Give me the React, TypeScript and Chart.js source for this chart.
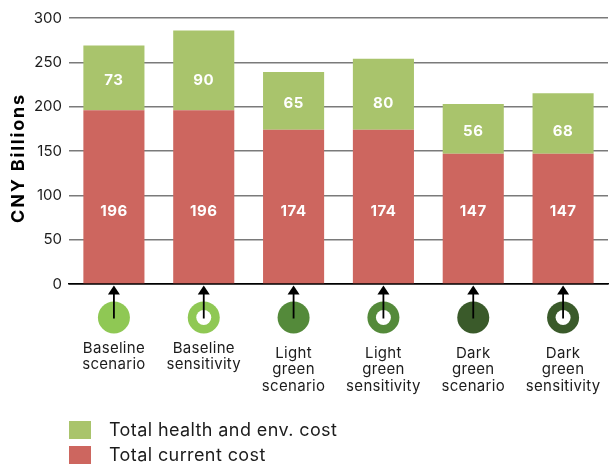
import React, { useEffect, useRef } from 'react';
import { Chart, registerables } from 'chart.js';

Chart.register(...registerables);

const categories: string[][] = [
  ['Baseline', 'scenario'],
  ['Baseline', 'sensitivity'],
  ['Light', 'green', 'scenario'],
  ['Light', 'green', 'sensitivity'],
  ['Dark', 'green', 'scenario'],
  ['Dark', 'green', 'sensitivity'],
];
const currentCost = [196, 196, 174, 174, 147, 147];
const healthEnvCost = [73, 90, 65, 80, 56, 68];
const seriesLabels = ['Total current cost', 'Total health and env. cost'];
const yTickValues = [0, 50, 100, 150, 200, 250, 300];
const iconColors = ['#8fc854', '#8fc854', '#548a3a', '#548a3a', '#3a5a2a', '#3a5a2a'];
const iconHollow = [false, true, false, true, false, true];
const yAxisTitle = 'CNY Billions';

const RED = '#cd665f';
const GREEN = '#a9c46c';
const TEXT = '#1c1c1c';
const FONT = 'Inter, "Noto Sans", sans-serif';

const overlayPlugin = {
  id: 'overlay',
  afterDatasetsDraw(chart: any) {
    const ctx: any = chart.ctx;
    const y = chart.scales.y;
    ctx.save();
    ctx.fillStyle = '#ffffff';
    ctx.font = `bold 15px ${FONT}`;
    ctx.letterSpacing = '0.5px';
    ctx.textAlign = 'center';
    ctx.textBaseline = 'middle';
    const metaRed = chart.getDatasetMeta(0);
    const metaGreen = chart.getDatasetMeta(1);
    const redLabelValue = 82;
    for (let i = 0; i < categories.length; i++) {
      const rb = metaRed.data[i];
      ctx.fillText(String(currentCost[i]), rb.x, y.getPixelForValue(redLabelValue));
      const pair = i - (i % 2);
      const gTop = y.getPixelForValue(currentCost[pair] + healthEnvCost[pair]);
      const gBot = y.getPixelForValue(currentCost[pair]);
      ctx.fillText(String(healthEnvCost[i]), metaGreen.data[i].x, (gTop + gBot) / 2 + 3);
    }
    ctx.restore();
  },
  afterDraw(chart: any) {
    const ctx: any = chart.ctx;
    const x = chart.scales.x;
    const area = chart.chartArea;
    ctx.save();

    const iconY = area.bottom + 33.5;
    for (let i = 0; i < categories.length; i++) {
      const cx = x.getPixelForValue(i);
      ctx.beginPath();
      ctx.arc(cx, iconY, 16, 0, Math.PI * 2);
      ctx.fillStyle = iconColors[i];
      ctx.fill();
      if (iconHollow[i]) {
        ctx.beginPath();
        ctx.arc(cx, iconY, 7.5, 0, Math.PI * 2);
        ctx.fillStyle = '#ffffff';
        ctx.fill();
      }
      ctx.strokeStyle = '#000';
      ctx.lineWidth = 1.8;
      ctx.beginPath();
      ctx.moveTo(cx, iconY + 1);
      ctx.lineTo(cx, area.bottom + 8);
      ctx.stroke();
      ctx.fillStyle = '#000';
      ctx.beginPath();
      ctx.moveTo(cx, area.bottom + 1.5);
      ctx.lineTo(cx - 6, area.bottom + 10.5);
      ctx.lineTo(cx + 6, area.bottom + 10.5);
      ctx.closePath();
      ctx.fill();

      const lines = categories[i];
      ctx.fillStyle = TEXT;
      ctx.font = `15px ${FONT}`;
      ctx.letterSpacing = '0.3px';
      ctx.textAlign = 'center';
      ctx.textBaseline = 'middle';
      const startY = area.bottom + (lines.length === 2 ? 64 : 69);
      lines.forEach((ln, k) => ctx.fillText(ln, cx, startY + k * 16.5));
    }

    ctx.save();
    ctx.translate(18.5, 158);
    ctx.rotate(-Math.PI / 2);
    ctx.font = `bold 18px ${FONT}`;
    ctx.letterSpacing = '1.8px';
    ctx.fillStyle = '#000';
    ctx.textAlign = 'center';
    ctx.textBaseline = 'middle';
    ctx.fillText(yAxisTitle, 0, 0);
    ctx.restore();

    const legendItems = [
      { label: seriesLabels[1], color: GREEN },
      { label: seriesLabels[0], color: RED },
    ];
    ctx.font = `18px ${FONT}`;
    ctx.letterSpacing = '0.4px';
    ctx.textAlign = 'left';
    ctx.textBaseline = 'middle';
    legendItems.forEach((it, k) => {
      const top = 421 + k * 25;
      ctx.fillStyle = it.color;
      ctx.fillRect(69, top, 22, 18);
      ctx.fillStyle = TEXT;
      ctx.fillText(it.label, 109, top + 9.5);
    });

    ctx.restore();
  },
};

export default function App() {
  const ref = useRef<HTMLCanvasElement | null>(null);
  useEffect(() => {
    if (!ref.current) return;
    const chart = new Chart(ref.current, {
      type: 'bar',
      data: {
        labels: categories.map((c) => c.join(' ')),
        datasets: [
          { label: seriesLabels[0], data: currentCost, backgroundColor: RED, borderWidth: 0 },
          { label: seriesLabels[1], data: healthEnvCost, backgroundColor: GREEN, borderWidth: 0 },
        ],
      },
      options: {
        responsive: false,
        animation: false,
        devicePixelRatio: 1,
        layout: { padding: { top: 18, bottom: 181, left: 0, right: 2 } },
        plugins: { legend: { display: false }, tooltip: { enabled: false } },
        datasets: { bar: { barPercentage: 0.68, categoryPercentage: 1 } },
        scales: {
          x: {
            stacked: true,
            grid: { display: false, drawTicks: false },
            border: { display: true, color: '#000', width: 1.5 },
            ticks: { display: false },
          },
          y: {
            stacked: true,
            min: 0,
            max: 300,
            afterBuildTicks: (scale: any) => {
              scale.ticks = yTickValues.map((v) => ({ value: v }));
            },
            afterFit: (scale: any) => {
              scale.width = 69;
            },
            grid: {
              drawTicks: false,
              color: (c: any) => (c.tick && c.tick.value === 0 ? '#000' : '#7a7a7a'),
              lineWidth: 1.6,
            },
            border: { display: false },
            ticks: {
              padding: 7,
              color: TEXT,
              font: { size: 15, family: FONT },
            },
          },
        },
      },
      plugins: [overlayPlugin],
    });
    return () => chart.destroy();
  }, []);
  return (
    <div style={{ position: 'absolute', left: 0, top: 0, width: 610, height: 465, background: '#fff' }}>
      <canvas ref={ref} width={610} height={465} />
    </div>
  );
}
